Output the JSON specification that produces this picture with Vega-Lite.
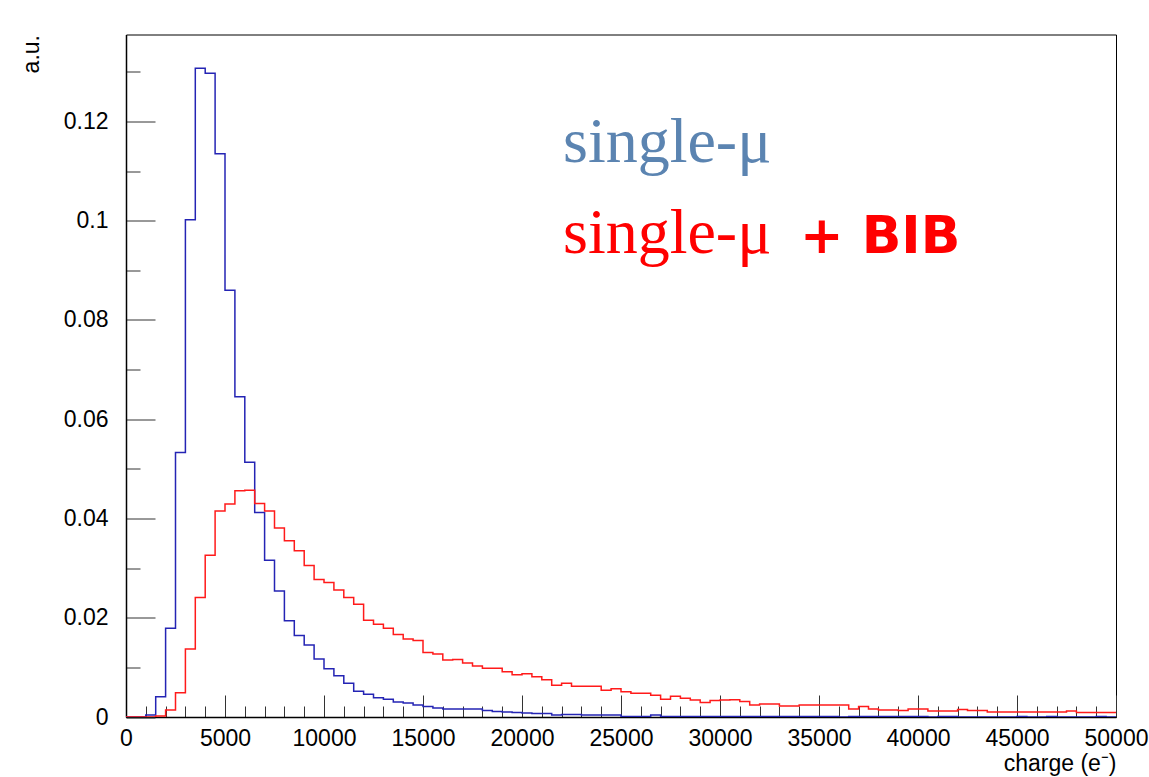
{
  "$schema": "https://vega.github.io/schema/vega-lite/v6.json",
  "width": 990,
  "height": 682.5,
  "autosize": {"type": "none"},
  "padding": {"left": 126, "top": 34.5, "right": 33, "bottom": 60},
  "background": "white",
  "config": {
    "view": {"stroke": "#000", "strokeWidth": 1},
    "axis": {
      "labelFont": "Liberation Sans",
      "titleFont": "Liberation Sans",
      "labelColor": "#000",
      "titleColor": "#000",
      "titleFontWeight": "normal",
      "domainColor": "#000",
      "domainWidth": 1.5,
      "tickColor": "#333",
      "tickWidth": 1,
      "grid": false,
      "labelOverlap": false,
      "labelFlush": false
    }
  },
  "datasets": {
    "hist": [
      {"c": 0, "mu": 0, "bib": 0},
      {"c": 500, "mu": 0, "bib": 0},
      {"c": 1000, "mu": 0.0004, "bib": 0},
      {"c": 1500, "mu": 0.0041, "bib": 0.0002},
      {"c": 2000, "mu": 0.0179, "bib": 0.0014},
      {"c": 2500, "mu": 0.0533, "bib": 0.0049},
      {"c": 3000, "mu": 0.1002, "bib": 0.0137},
      {"c": 3500, "mu": 0.1307, "bib": 0.0241},
      {"c": 4000, "mu": 0.1297, "bib": 0.0326},
      {"c": 4500, "mu": 0.1135, "bib": 0.0415},
      {"c": 5000, "mu": 0.0860, "bib": 0.0429},
      {"c": 5500, "mu": 0.0645, "bib": 0.0456},
      {"c": 6000, "mu": 0.0513, "bib": 0.0457},
      {"c": 6500, "mu": 0.0412, "bib": 0.0430},
      {"c": 7000, "mu": 0.0316, "bib": 0.0415},
      {"c": 7500, "mu": 0.0254, "bib": 0.0381},
      {"c": 8000, "mu": 0.0194, "bib": 0.0355},
      {"c": 8500, "mu": 0.0164, "bib": 0.0335},
      {"c": 9000, "mu": 0.0145, "bib": 0.0305},
      {"c": 9500, "mu": 0.0117, "bib": 0.0277},
      {"c": 10000, "mu": 0.0097, "bib": 0.0271},
      {"c": 10500, "mu": 0.0083, "bib": 0.0256},
      {"c": 11000, "mu": 0.0068, "bib": 0.0241},
      {"c": 11500, "mu": 0.0052, "bib": 0.0227},
      {"c": 12000, "mu": 0.0046, "bib": 0.0195},
      {"c": 12500, "mu": 0.0039, "bib": 0.0187},
      {"c": 13000, "mu": 0.0036, "bib": 0.0179},
      {"c": 13500, "mu": 0.0030, "bib": 0.0166},
      {"c": 14000, "mu": 0.0028, "bib": 0.0157},
      {"c": 14500, "mu": 0.0024, "bib": 0.0154},
      {"c": 15000, "mu": 0.0021, "bib": 0.0130},
      {"c": 15500, "mu": 0.0018, "bib": 0.0127},
      {"c": 16000, "mu": 0.0016, "bib": 0.0115},
      {"c": 16500, "mu": 0.0016, "bib": 0.0116},
      {"c": 17000, "mu": 0.0016, "bib": 0.0109},
      {"c": 17500, "mu": 0.0016, "bib": 0.0103},
      {"c": 18000, "mu": 0.0013, "bib": 0.0098},
      {"c": 18500, "mu": 0.0011, "bib": 0.0098},
      {"c": 19000, "mu": 0.0010, "bib": 0.0091},
      {"c": 19500, "mu": 0.0009, "bib": 0.0085},
      {"c": 20000, "mu": 0.0008, "bib": 0.0087},
      {"c": 20500, "mu": 0.0007, "bib": 0.0081},
      {"c": 21000, "mu": 0.0007, "bib": 0.0075},
      {"c": 21500, "mu": 0.0004, "bib": 0.0064},
      {"c": 22000, "mu": 0.0005, "bib": 0.0068},
      {"c": 22500, "mu": 0.0005, "bib": 0.0062},
      {"c": 23000, "mu": 0.0004, "bib": 0.0062},
      {"c": 23500, "mu": 0.0004, "bib": 0.0062},
      {"c": 24000, "mu": 0.0004, "bib": 0.0054},
      {"c": 24500, "mu": 0.0004, "bib": 0.0057},
      {"c": 25000, "mu": 0.0001, "bib": 0.0051},
      {"c": 25500, "mu": 0.0001, "bib": 0.0048},
      {"c": 26000, "mu": 0.0001, "bib": 0.0048},
      {"c": 26500, "mu": 0.0004, "bib": 0.0044},
      {"c": 27000, "mu": 0.0001, "bib": 0.0036},
      {"c": 27500, "mu": 0.0001, "bib": 0.0042},
      {"c": 28000, "mu": 0.0001, "bib": 0.0038},
      {"c": 28500, "mu": 0.0001, "bib": 0.0034},
      {"c": 29000, "mu": 0.0001, "bib": 0.0029},
      {"c": 29500, "mu": 0.0001, "bib": 0.0033},
      {"c": 30000, "mu": 0.0001, "bib": 0.0034},
      {"c": 30500, "mu": 0.0001, "bib": 0.0035},
      {"c": 31000, "mu": 0.0001, "bib": 0.0031},
      {"c": 31500, "mu": 0.0001, "bib": 0.0024},
      {"c": 32000, "mu": 0.0001, "bib": 0.0026},
      {"c": 32500, "mu": 0.0001, "bib": 0.0026},
      {"c": 33000, "mu": 0.0001, "bib": 0.0022},
      {"c": 33500, "mu": 0.0001, "bib": 0.0022},
      {"c": 34000, "mu": 0.0001, "bib": 0.0024},
      {"c": 34500, "mu": 0.0001, "bib": 0.0024},
      {"c": 35000, "mu": 0.0001, "bib": 0.0024},
      {"c": 35500, "mu": 0.0001, "bib": 0.0024},
      {"c": 36000, "mu": 0, "bib": 0.0024},
      {"c": 36500, "mu": 0.0001, "bib": 0.0016},
      {"c": 37000, "mu": 0.0001, "bib": 0.0021},
      {"c": 37500, "mu": 0.0001, "bib": 0.0016},
      {"c": 38000, "mu": 0.0001, "bib": 0.0014},
      {"c": 38500, "mu": 0.0001, "bib": 0.0014},
      {"c": 39000, "mu": 0.0001, "bib": 0.0013},
      {"c": 39500, "mu": 0.0001, "bib": 0.0016},
      {"c": 40000, "mu": 0.0001, "bib": 0.0016},
      {"c": 40500, "mu": 0, "bib": 0.0012},
      {"c": 41000, "mu": 0.0001, "bib": 0.0012},
      {"c": 41500, "mu": 0.0001, "bib": 0.0012},
      {"c": 42000, "mu": 0, "bib": 0.0015},
      {"c": 42500, "mu": 0, "bib": 0.0013},
      {"c": 43000, "mu": 0, "bib": 0.0013},
      {"c": 43500, "mu": 0, "bib": 0.0010},
      {"c": 44000, "mu": 0, "bib": 0.0010},
      {"c": 44500, "mu": 0, "bib": 0.0010},
      {"c": 45000, "mu": 0.0001, "bib": 0.0010},
      {"c": 45500, "mu": 0, "bib": 0.0010},
      {"c": 46000, "mu": 0, "bib": 0.0010},
      {"c": 46500, "mu": 0.0001, "bib": 0.0010},
      {"c": 47000, "mu": 0, "bib": 0.0010},
      {"c": 47500, "mu": 0, "bib": 0.0012},
      {"c": 48000, "mu": 0, "bib": 0.0009},
      {"c": 48500, "mu": 0, "bib": 0.0009},
      {"c": 49000, "mu": 0.0001, "bib": 0.0009},
      {"c": 49500, "mu": 0, "bib": 0.0009},
      {"c": 50000, "mu": 0, "bib": 0.0009}
    ]
  },
  "encoding": {
    "x": {
      "field": "c",
      "type": "quantitative",
      "scale": {"domain": [0, 50000], "nice": false, "zero": false},
      "axis": {
        "title": "charge (e⁻)",
        "titleAnchor": "end",
        "titleFontSize": 23,
        "titlePadding": -9,
        "labelFontSize": 23,
        "labelPadding": 32,
        "values": [0,1000,2000,3000,4000,5000,6000,7000,8000,9000,10000,11000,12000,13000,14000,15000,16000,17000,18000,19000,20000,21000,22000,23000,24000,25000,26000,27000,28000,29000,30000,31000,32000,33000,34000,35000,36000,37000,38000,39000,40000,41000,42000,43000,44000,45000,46000,47000,48000,49000,50000],
        "labelExpr": "datum.value % 5000 === 0 ? format(datum.value, 'd') : ''",
        "tickSize": {"condition": {"test": "datum.value % 5000 === 0", "value": -22}, "value": -11}
      }
    }
  },
  "layer": [
    {
      "data": {"name": "hist"},
      "mark": {"type": "line", "interpolate": "step-after", "stroke": "#2424b4", "strokeWidth": 1.5, "clip": true},
      "encoding": {
        "y": {
          "field": "mu",
          "type": "quantitative",
          "scale": {"domain": [0, 0.1375], "nice": false, "zero": false},
          "axis": {
            "title": "a.u.",
            "titleAnchor": "end",
            "titleFontSize": 23,
            "titlePadding": 20,
            "labelFontSize": 23,
            "labelPadding": 47,
            "values": [0,0.005,0.01,0.015,0.02,0.025,0.03,0.035,0.04,0.045,0.05,0.055,0.06,0.065,0.07,0.075,0.08,0.085,0.09,0.095,0.1,0.105,0.11,0.115,0.12,0.125,0.13,0.135],
            "labelExpr": "abs(datum.value * 50 - round(datum.value * 50)) < 0.000001 ? format(datum.value, '~g') : ''",
            "tickSize": {"condition": {"test": "abs(datum.value * 50 - round(datum.value * 50)) < 0.000001", "value": -29}, "value": -14}
          }
        }
      }
    },
    {
      "data": {"name": "hist"},
      "mark": {"type": "line", "interpolate": "step-after", "stroke": "#ff1a1a", "strokeWidth": 1.5, "clip": true},
      "encoding": {
        "y": {"field": "bib", "type": "quantitative"}
      }
    },
    {
      "data": {"values": [{"c": 22070, "mu": 0.1118, "t": "single-μ"}]},
      "mark": {"type": "text", "align": "left", "baseline": "alphabetic", "font": "Liberation Serif", "fontSize": 64, "color": "#5b84b1"},
      "encoding": {
        "y": {"field": "mu", "type": "quantitative"},
        "text": {"field": "t"}
      }
    },
    {
      "data": {"values": [{"c": 22070, "mu": 0.0934, "t": "single-μ"}]},
      "mark": {"type": "text", "align": "left", "baseline": "alphabetic", "font": "Liberation Serif", "fontSize": 64, "color": "#ff0000"},
      "encoding": {
        "y": {"field": "mu", "type": "quantitative"},
        "text": {"field": "t"}
      }
    },
    {
      "data": {"values": [{"c": 34040, "mu": 0.0934, "t": "+ BIB"}]},
      "mark": {"type": "text", "align": "left", "baseline": "alphabetic", "font": "DejaVu Sans", "fontWeight": "bold", "fontSize": 52, "color": "#ff0000"},
      "encoding": {
        "y": {"field": "mu", "type": "quantitative"},
        "text": {"field": "t"}
      }
    }
  ]
}
